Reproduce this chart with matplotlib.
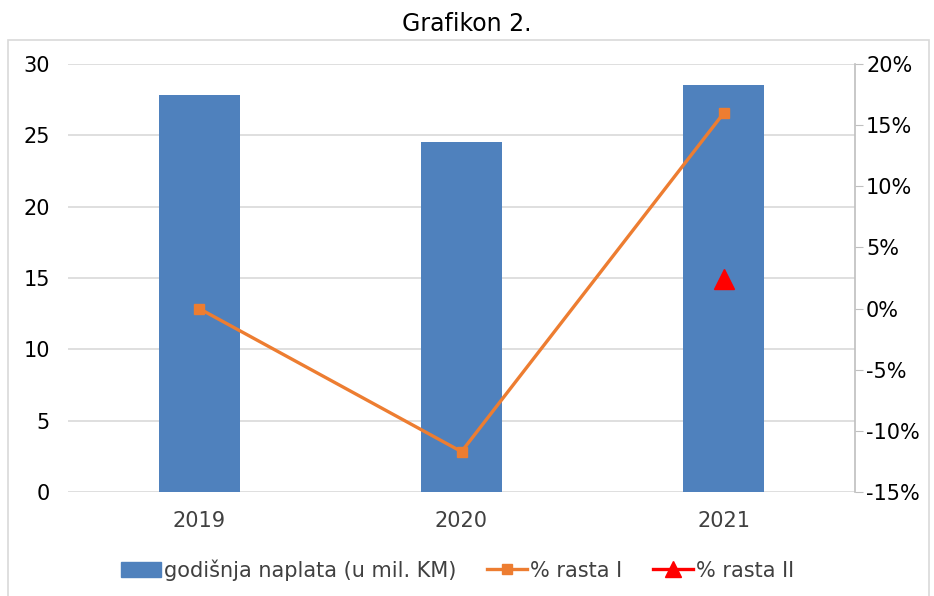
import matplotlib.pyplot as plt
import matplotlib.patches as mpatches
from matplotlib.ticker import FuncFormatter

years = ["2019", "2020", "2021"]
naplata = [27.8, 24.5, 28.5]          # godišnja naplata (u mil. KM)
rast_1 = [0.0, -11.7, 16.0]           # % rasta I
rast_2_years = ["2021"]
rast_2 = [2.4]                        # % rasta II

fig = plt.figure(figsize=(9.34, 5.96), dpi=100)
plt.rcParams['font.family'] = ['DejaVu Sans']

# outer chart frame
fig.patches.append(mpatches.Rectangle((8 / 934, -0.01), 921 / 934, 1 - 40 / 596 + 0.01,
                                      transform=fig.transFigure, fill=False,
                                      edgecolor="#d9d9d9", linewidth=1.2))

ax = fig.add_axes([68 / 934, 1 - 492 / 596, (855 - 68) / 934, (492 - 64) / 596])
ax2 = ax.twinx()
ax.set_zorder(ax2.get_zorder() - 1)
ax2.patch.set_visible(False)

x = range(len(years))
ax.bar(x, naplata, width=0.31, color="#4F81BD", zorder=2)
ax.set_xlim(-0.5, 2.5)
ax.set_ylim(0, 30)
ax.set_yticks(range(0, 31, 5))
ax.grid(axis="y", color="#d9d9d9", linewidth=1.2, zorder=0)
ax.set_xticks(list(x))
ax.set_xticklabels(years)
for s in ["top", "left", "right", "bottom"]:
    ax.spines[s].set_visible(False)
ax.tick_params(axis="y", length=0, pad=13, labelsize=15, colors="black")
ax.tick_params(axis="x", length=0, pad=14, labelsize=15, labelcolor="#404040")

ax2.plot(list(x), rast_1, color="#ED7D31", linewidth=2.4, marker="s", markersize=7)
ax2.plot([years.index(y) for y in rast_2_years], rast_2, linestyle="none",
         color="#FF0000", marker="^", markersize=14)
ax2.set_ylim(-15, 20)
ax2.set_yticks(range(-15, 21, 5))
ax2.yaxis.set_major_formatter(FuncFormatter(lambda v, p: f"{int(v)}%"))
for s in ["top", "left", "bottom"]:
    ax2.spines[s].set_visible(False)
ax2.spines["right"].set_color("#bfbfbf")
ax2.spines["right"].set_linewidth(1.2)
ax2.tick_params(axis="y", length=6, color="#bfbfbf", pad=2, labelsize=15)

fig.text(0.5, 1 - 24 / 596, "Grafikon 2.", ha="center", va="center", fontsize=17)

handles = [
    mpatches.Patch(color="#4F81BD", label="godišnja naplata (u mil. KM)"),
    plt.Line2D([], [], color="#ED7D31", linewidth=2.4, marker="s", markersize=7, label="% rasta I"),
    plt.Line2D([], [], color="#FF0000", linewidth=2.4, marker="^", markersize=12, label="% rasta II"),
]
fig.legend(handles=handles, loc="center", bbox_to_anchor=(0.49, 1 - 570 / 596), ncol=3,
           frameon=False, fontsize=15, handlelength=1.9, handletextpad=0.15,
           columnspacing=1.5, labelcolor="#404040")

fig.savefig("out.png", dpi=100)
